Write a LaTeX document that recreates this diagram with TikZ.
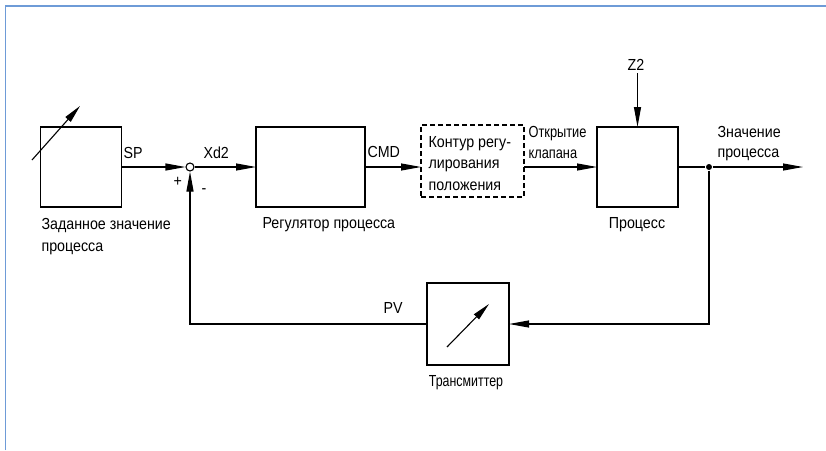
\documentclass[tikz,border=0pt]{standalone}
\usepackage{fontspec}
\setmainfont{Liberation Sans}[FakeStretch=0.89]
\usetikzlibrary{arrows.meta}
\definecolor{bordercol}{RGB}{110,155,215}
\begin{document}
\begin{tikzpicture}[x=1pt,y=-1pt,line width=1.1pt,
  font=\fontsize{16}{19}\selectfont,
  blk/.style={draw,inner sep=0pt,outer sep=0pt},
  sig/.style={-{Triangle[length=20pt,width=7pt]}},
  lbl/.style={inner sep=0pt,anchor=base west},
  lblc/.style={inner sep=0pt,anchor=base}]
\useasboundingbox (0,0) rectangle (826,450);
\draw[bordercol,line width=1.4pt] (5.5,450) -- (5.5,6) -- (826,6);

% blocks
\node[blk,minimum width=81pt,minimum height=80pt] (sp) at (81,167) {};
\node[blk,minimum width=109pt,minimum height=80pt] (ctrl) at (310.5,167) {};
\node[blk,dash pattern=on 5pt off 3pt,minimum width=103pt,minimum height=72pt] (pos) at (472.5,161) {};
\node[blk,minimum width=81pt,minimum height=80pt] (proc) at (637.5,167) {};
\node[blk,minimum width=82pt,minimum height=82pt] (tr) at (468,324) {};
\node[circle,draw,fill=white,minimum size=8pt,inner sep=0pt] (sum) at (190,167) {};
\node[circle,fill,minimum size=6pt,inner sep=0pt] (jn) at (709,167) {};
\coordinate (z2top) at (637.5,73);
\coordinate (out) at (803,167);
\coordinate (spa1) at (32,160);
\coordinate (spa2) at (80,106);
\coordinate (tra1) at (447,347);
\coordinate (tra2) at (489,304);

% connectors
\draw[sig] (sp.east) -- (sum.west);
\draw[sig] (sum.east) -- (ctrl.west);
\draw[sig] (ctrl.east) -- (ctrl.east -| pos.west);
\draw[sig] (pos.east |- proc.west) -- (proc.west);
\draw[sig] (z2top) -- (proc.north);
\draw (proc.east) -- (jn);
\draw[sig] (jn) -- (out);
\draw[sig] (jn) |- (tr.east);
\draw[sig] (tr.west) -| (sum.south);
\draw[-{Triangle[length=18pt,width=7pt]}] (spa1) -- (spa2);
\draw[-{Triangle[length=18pt,width=7pt]}] (tra1) -- (tra2);

% labels
\node[lbl] (lsp) at (123,158) {SP};
\node[lbl] (lxd) at (203,158) {Xd2};
\node[lbl] (lcmd) at (367,157) {CMD};
\node[lbl] (lplus) at (173,186) {+};
\node[lbl] (lminus) at (201,193) {-};
\node[lbl] (lpv) at (383,313) {PV};
\node[lblc] (lz2) at (636,70) {Z2};
\node[lbl] (lopen1) at (528,137) {\scalebox{0.9}[1]{Открытие}};
\node[lbl] (lopen2) at (528,158) {\scalebox{0.9}[1]{клапана}};
\node[lbl] (lval1) at (717,137) {Значение};
\node[lbl] (lval2) at (717,157) {процесса};
\node[lbl] (lpos1) at (428,147) {Контур регу-};
\node[lbl] (lpos2) at (428,168) {лирования};
\node[lbl] (lpos3) at (428,190) {положения};
\node[lbl] (lset1) at (41,229) {Заданное значение};
\node[lbl] (lset2) at (41,251) {процесса};
\node[lbl] (lctrl) at (262,228) {Регулятор процесса};
\node[lblc] (lproc) at (637,228) {Процесс};
\node[lblc] (ltr) at (466,386) {\scalebox{0.87}[1]{Трансмиттер}};
\end{tikzpicture}
\end{document}
